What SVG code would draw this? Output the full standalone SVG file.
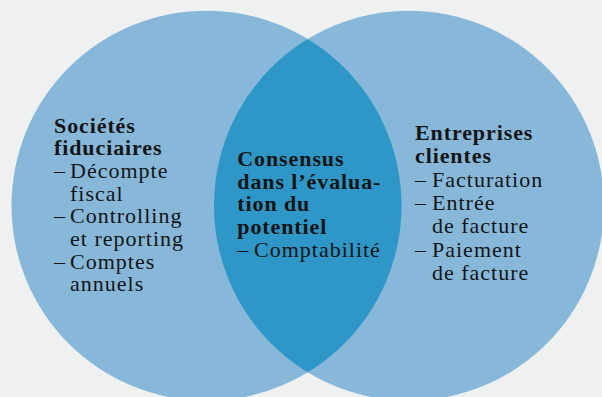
<svg xmlns="http://www.w3.org/2000/svg" width="602" height="397" viewBox="0 0 602 397">
<style>
text{font-family:"Liberation Serif","Times New Roman",serif;font-size:22px;fill:#141414;letter-spacing:1px}
.b{font-weight:bold;letter-spacing:0.9px}
</style>
<defs>
<clipPath id="clipL"><circle cx="206.5" cy="205.7" r="195"/></clipPath>
</defs>
<rect width="602" height="397" fill="#eff0f0"/>
<g id="circle-left"><circle cx="206.5" cy="205.7" r="195" fill="#87b8da"/></g>
<g id="circle-right"><circle cx="409" cy="205.7" r="195" fill="#87b8da"/></g>
<g id="overlap"><circle cx="409" cy="205.7" r="195" fill="#2e97c7" clip-path="url(#clipL)"/></g>
<g id="node-left">
<text class="b" x="54" y="132.7">Sociétés</text>
<text class="b" x="54" y="155.3">fiduciaires</text>
<text y="178.3"><tspan x="54">–</tspan><tspan x="70">Décompte</tspan></text>
<text x="70" y="200.5">fiscal</text>
<text y="223.3"><tspan x="54">–</tspan><tspan x="70">Controlling</tspan></text>
<text x="70" y="246">et reporting</text>
<text y="268.7"><tspan x="54">–</tspan><tspan x="70">Comptes</tspan></text>
<text x="70" y="291.3">annuels</text>
</g>
<g id="node-center">
<text class="b" x="237.3" y="166">Consensus</text>
<text class="b" x="237.3" y="188.7">dans l’évalua-</text>
<text class="b" x="237.3" y="211.3">tion du</text>
<text class="b" x="237.3" y="234">potentiel</text>
<text y="256.7"><tspan x="237.3">–</tspan><tspan x="254">Comptabilité</tspan></text>
</g>
<g id="node-right">
<text class="b" x="415" y="140">Entreprises</text>
<text class="b" x="415" y="163.3">clientes</text>
<text y="186.7"><tspan x="415">–</tspan><tspan x="432">Facturation</tspan></text>
<text y="210"><tspan x="415">–</tspan><tspan x="432">Entrée</tspan></text>
<text x="432" y="233.3">de facture</text>
<text y="256.7"><tspan x="415">–</tspan><tspan x="432">Paiement</tspan></text>
<text x="432" y="280">de facture</text>
</g>
<g id="connectors"/>
</svg>
